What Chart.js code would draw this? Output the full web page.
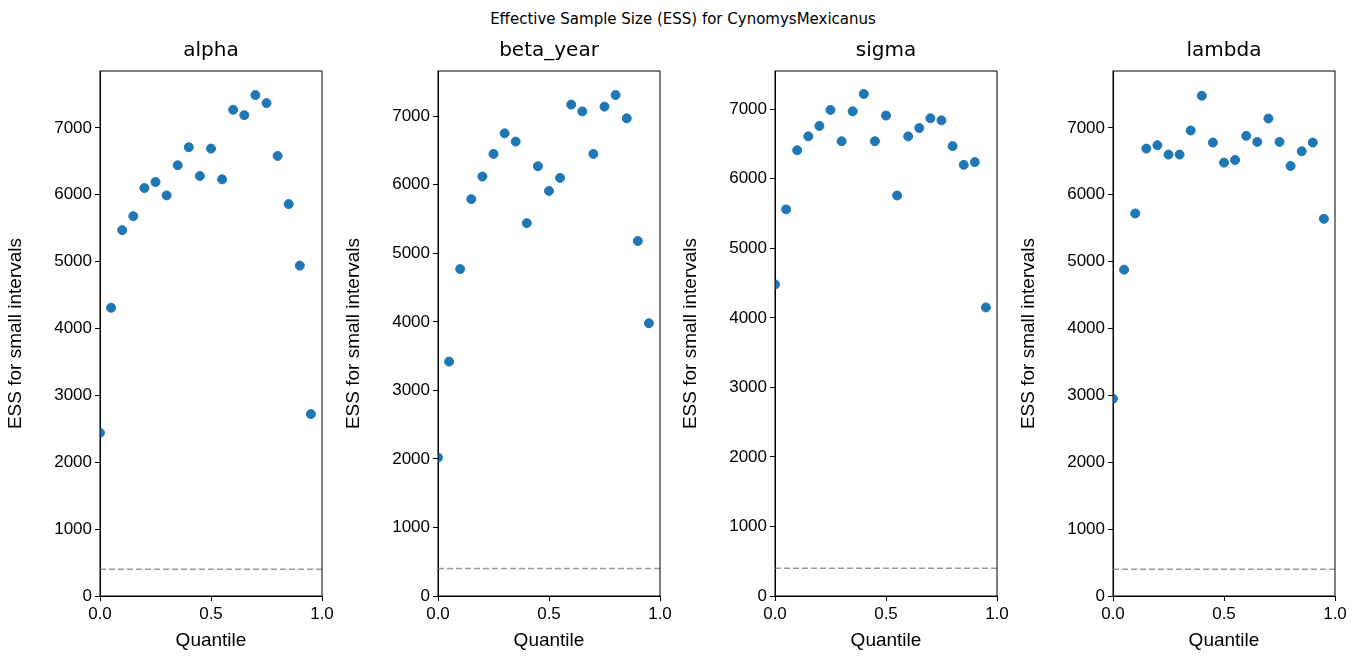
<!DOCTYPE html>
<html><head><meta charset="utf-8">
<script src="https://cdn.jsdelivr.net/npm/chart.js@4/dist/chart.umd.min.js"></script>
<style>
body{margin:0;width:1366px;height:665px;background:#fff;font-family:"DejaVu Sans",sans-serif;position:relative;overflow:hidden}
#sup{position:absolute;top:10px;left:0;width:1366px;text-align:center;font-size:15px}
.box{position:absolute;top:39px;width:342px;height:617px}
</style></head><body>
<div id="sup">Effective Sample Size (ESS) for CynomysMexicanus</div>
<div class="box" style="left:0px"><canvas id="c0"></canvas></div>
<div class="box" style="left:338px"><canvas id="c1"></canvas></div>
<div class="box" style="left:675px"><canvas id="c2"></canvas></div>
<div class="box" style="left:1013px"><canvas id="c3"></canvas></div>
<script>
// quantiles 0.00 .. 0.95
const quantiles = [0,0.05,0.1,0.15,0.2,0.25,0.3,0.35,0.4,0.45,0.5,0.55,0.6,0.65,0.7,0.75,0.8,0.85,0.9,0.95];
const panelNames = ['alpha','beta_year','sigma','lambda'];
const essAlpha = [2440,4310,5470,5680,6100,6190,5990,6440,6710,6280,6690,6230,7270,7190,7490,7370,6580,5860,4940,2720];
const essBetaYear = [2020,3420,4770,5790,6120,6450,6750,6630,5440,6270,5910,6100,7170,7070,6450,7140,7310,6970,5180,3980];
const essSigma = [4480,5560,6410,6610,6760,6990,6540,6970,7220,6540,6910,5760,6610,6730,6870,6840,6470,6200,6240,4150];
const essLambda = [2950,4880,5720,6690,6740,6600,6600,6960,7480,6780,6480,6520,6880,6790,7140,6790,6430,6650,6780,5640];
const yMax = [7850,7660,7550,7850];
const yTicks = [0,1000,2000,3000,4000,5000,6000,7000];
const xTicks = [0,0.5,1];
const threshold = 400;
const allSeries = [essAlpha, essBetaYear, essSigma, essLambda];

const frame = {
  id: 'frame',
  afterDraw(chart) {
    const a = chart.chartArea, ctx = chart.ctx;
    ctx.save(); ctx.strokeStyle = '#000'; ctx.lineWidth = 1;
    ctx.strokeRect(a.left, a.top, a.right - a.left, a.bottom - a.top);
    ctx.restore();
  }
};

allSeries.forEach((vals, i) => {
  new Chart(document.getElementById('c' + i), {
    type: 'scatter',
    data: {
      datasets: [
        { data: quantiles.map((q, k) => ({x: q, y: vals[k]})), backgroundColor: '#1f77b4', borderColor: '#1f77b4', pointRadius: 4.5 },
        { type: 'line', data: [{x: 0, y: threshold}, {x: 1, y: threshold}], borderColor: '#999', borderWidth: 1.5, borderDash: [6, 3], pointRadius: 0 }
      ]
    },
    options: {
      responsive: true, maintainAspectRatio: false, animation: false,
      layout: { padding: { right: 20, left: 0, top: 0, bottom: 0 } },
      plugins: {
        legend: { display: false }, tooltip: { enabled: false },
        title: { display: true, fullSize: false, text: panelNames[i], color: '#000', font: { size: 20, family: 'DejaVu Sans', weight: 'normal' }, padding: { top: 0, bottom: 8 } }
      },
      scales: {
        x: {
          type: 'linear', min: 0, max: 1,
          afterBuildTicks: s => { s.ticks = xTicks.map(v => ({value: v})); },
          ticks: { color: '#000', font: { size: 17 }, callback: v => v.toFixed(1), maxRotation: 0 },
          grid: { drawOnChartArea: false, tickLength: 5, color: '#000' },
          border: { color: '#000' },
          title: { display: true, text: 'Quantile', color: '#000', font: { size: 19 } },
          afterFit: s => { s.height = 60; }
        },
        y: {
          min: 0, max: yMax[i],
          afterBuildTicks: s => { s.ticks = yTicks.map(v => ({value: v})); },
          ticks: { color: '#000', font: { size: 17 }, callback: v => String(v) },
          grid: { drawOnChartArea: false, tickLength: 5, color: '#000' },
          border: { color: '#000' },
          title: { display: true, text: 'ESS for small intervals', color: '#000', font: { size: 19 } },
          afterFit: s => { s.width = 100; }
        }
      }
    },
    plugins: [frame]
  });
});
</script>
</body></html>
